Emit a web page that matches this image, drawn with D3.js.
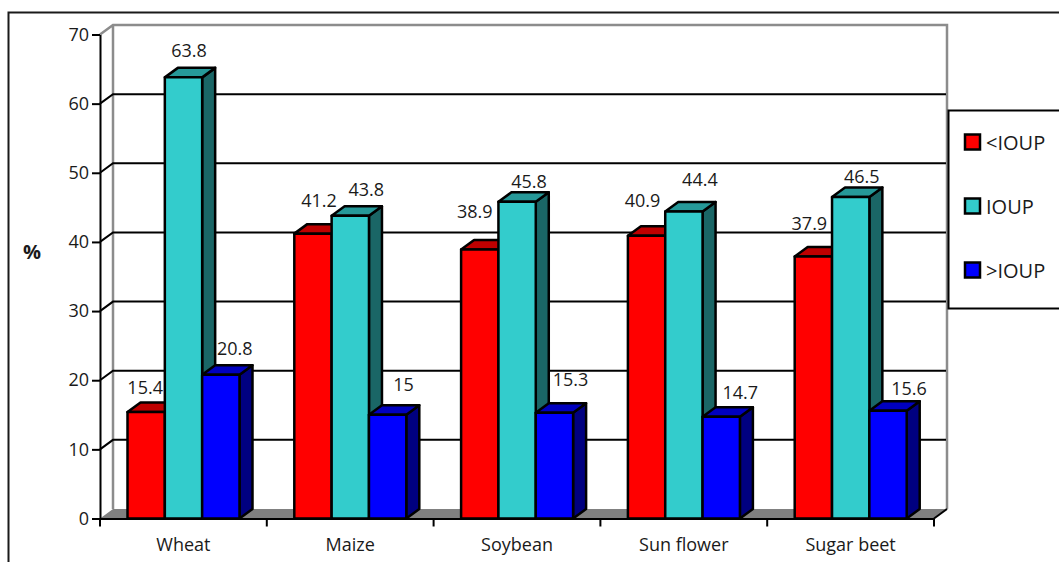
<!DOCTYPE html>
<html>
<head>
<meta charset="utf-8">
<script src="https://cdn.jsdelivr.net/npm/d3@7"></script>
<style>
 html, body { margin: 0; padding: 0; background: #fff; overflow: hidden; }
 text { font-family: "Open Sans", sans-serif; fill: #1a1a1a; }
</style>
</head>
<body>
<div id="container"></div>
<script>
const categories = ['Wheat', 'Maize', 'Soybean', 'Sun flower', 'Sugar beet'];
const seriesNames = ['<IOUP', 'IOUP', '>IOUP'];
const belowIoup = [15.4, 41.2, 38.9, 40.9, 37.9];
const atIoup = [63.8, 43.8, 45.8, 44.4, 46.5];
const aboveIoup = [20.8, 15, 15.3, 14.7, 15.6];
const yTicks = [0, 10, 20, 30, 40, 50, 60, 70];

// face, top, side
const colors = [
  ['#ff0000', '#bf0000', '#800000'],
  ['#33cccc', '#269999', '#1a6666'],
  ['#0000ff', '#0000bf', '#000080']
];

// hand placed labels, offset from the middle of each bar's front top edge
const labelNudge = [
  [[-1, -18], [6, -27], [-5, -32], [-4, -29], [-4, -26]],
  [[5.5, -20], [16, -20], [12, -14], [16, -26], [11, -14]],
  [[14, -20], [16, -24], [16, -27], [19, -18], [21, -16]]
];

const series = [belowIoup, atIoup, aboveIoup];

const width = 1059;
const height = 562;
const plotLeft = 100, plotRight = 934, plotBottom = 518.5, plotTop = 34.5;
const depthX = 13, depthY = 9.5;

const x = d3.scaleBand().domain(categories).range([plotLeft, plotRight]).paddingInner(0).paddingOuter(0);
const y = d3.scaleLinear().domain([0, 70]).range([plotBottom, plotTop]);
const inner = d3.scaleBand().domain(d3.range(3)).range([27.5, 139.5]);

const svg = d3.select('#container').append('svg')
  .attr('width', width).attr('height', height).style('display', 'block');

// outer frame
svg.append('path').attr('d', `M8.5,${height}V12.5H${width}`)
  .attr('fill', 'none').attr('stroke', '#1a1a1a').attr('stroke-width', 2);

// walls and floor
svg.append('path')
  .attr('d', `M${plotLeft},${plotBottom}L${plotLeft + depthX},${plotBottom - depthY}H${plotRight + depthX}L${plotRight},${plotBottom}Z`)
  .attr('fill', '#808080');
svg.append('path')
  .attr('d', `M${plotLeft},${plotTop}L${plotLeft + depthX},${plotTop - depthY}H${plotRight + depthX}V${plotBottom - depthY}M${plotLeft + depthX},${plotTop - depthY}V${plotBottom - depthY}`)
  .attr('fill', 'none').attr('stroke', '#8c8c8c').attr('stroke-width', 2.5);

// grid lines on the back wall, with the step across the left wall
svg.append('g').selectAll('path')
  .data(yTicks.filter(t => t > 0 && t < 70))
  .enter().append('path')
  .attr('d', t => `M${plotLeft},${y(t)}L${plotLeft + depthX},${y(t) - depthY}H${plotRight + depthX - 1}`)
  .attr('fill', 'none').attr('stroke', '#000').attr('stroke-width', 2);

// axes
const yAxis = svg.append('g').attr('transform', `translate(${plotLeft},0)`)
  .call(d3.axisLeft(y).tickValues(yTicks).tickSize(8).tickPadding(3).tickSizeOuter(0));
yAxis.selectAll('text').style('font-size', '18px');

// bars
categories.forEach((cat, c) => {
  const g = svg.append('g').attr('transform', `translate(${x(cat)},0)`);
  series.forEach((vals, s) => {
    const x0 = inner(s), x1 = x0 + inner.bandwidth();
    const yT = y(vals[c]);
    const bar = g.append('g').attr('stroke', '#000').attr('stroke-width', 2.5).attr('stroke-linejoin', 'round');
    bar.append('path')
      .attr('d', `M${x1},${plotBottom}L${x1 + depthX},${plotBottom - depthY}V${yT - depthY}L${x1},${yT}Z`)
      .attr('fill', colors[s][2]);
    bar.append('path')
      .attr('d', `M${x0},${yT}L${x0 + depthX},${yT - depthY}H${x1 + depthX}L${x1},${yT}Z`)
      .attr('fill', colors[s][1]);
    bar.append('rect')
      .attr('x', x0).attr('y', yT).attr('width', x1 - x0).attr('height', plotBottom - yT)
      .attr('fill', colors[s][0]);
  });
});

const xAxis = svg.append('g').attr('transform', `translate(0,${plotBottom})`)
  .call(d3.axisBottom(x).tickSize(0).tickPadding(20));
xAxis.selectAll('text').style('font-size', '18px');

// category boundary ticks, the axis puts its own in the band centres
svg.append('g').selectAll('line')
  .data(d3.range(categories.length + 1))
  .enter().append('line')
  .attr('x1', i => plotLeft + i * x.step()).attr('x2', i => plotLeft + i * x.step())
  .attr('y1', plotBottom).attr('y2', plotBottom + 8)
  .attr('stroke', '#000').attr('stroke-width', 2);
svg.append('line')
  .attr('x1', plotRight).attr('y1', plotBottom).attr('x2', plotRight + depthX).attr('y2', plotBottom - depthY)
  .attr('stroke', '#000').attr('stroke-width', 2);

svg.selectAll('.domain').attr('stroke', '#000').attr('stroke-width', 2);
svg.selectAll('.tick line').attr('stroke', '#000').attr('stroke-width', 2);

// data labels
series.forEach((vals, s) => {
  svg.append('g').selectAll('text')
    .data(vals)
    .enter().append('text')
    .attr('x', (d, c) => x(categories[c]) + inner(s) + inner.bandwidth() / 2 + labelNudge[s][c][0])
    .attr('y', (d, c) => y(d) + labelNudge[s][c][1])
    .attr('text-anchor', 'middle')
    .style('font-size', '18px')
    .text(d => d);
});

svg.append('text').attr('x', 32).attr('y', 259).attr('text-anchor', 'middle')
  .style('font-size', '20px').style('font-weight', 'bold').text('%');

// legend
svg.append('rect').attr('x', 948.5).attr('y', 110.5).attr('width', 120).attr('height', 198)
  .attr('fill', '#fff').attr('stroke', '#000').attr('stroke-width', 2);
const legendY = d3.scalePoint().domain(seriesNames).range([142, 270]);
seriesNames.forEach((name, s) => {
  svg.append('rect')
    .attr('x', 965).attr('y', legendY(name) - 7.5).attr('width', 15).attr('height', 15)
    .attr('fill', colors[s][0]).attr('stroke', '#000').attr('stroke-width', 2.5);
  svg.append('text').attr('x', 986).attr('y', legendY(name) + 8)
    .style('font-size', '20px').text(name);
});
</script>
</body>
</html>
